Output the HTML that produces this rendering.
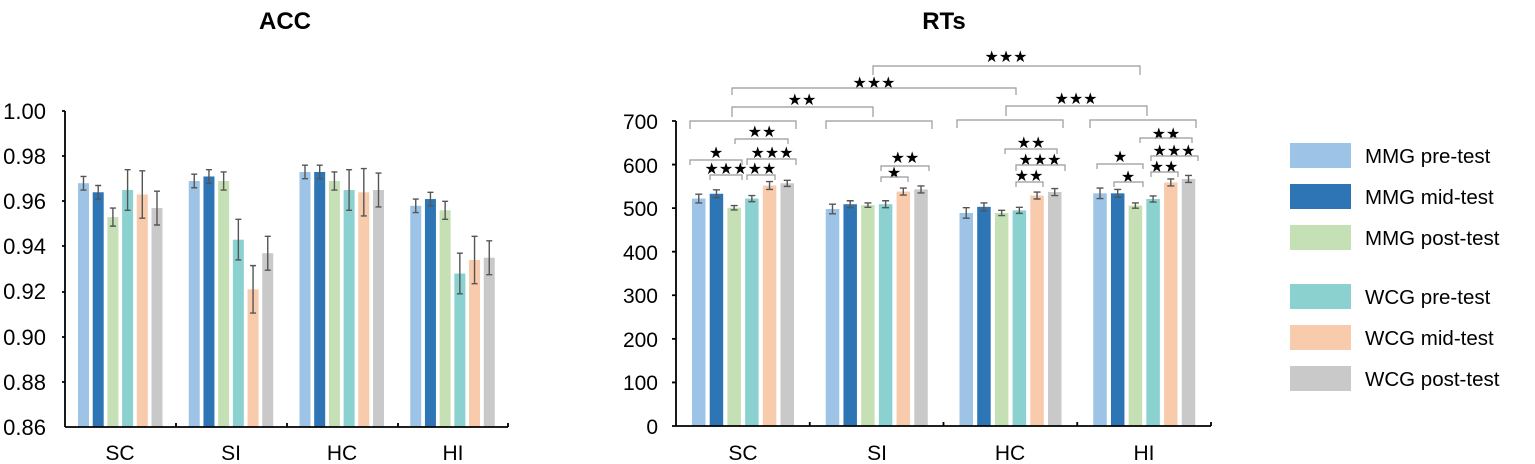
<!DOCTYPE html>
<html><head><meta charset="utf-8"><style>
html,body{margin:0;padding:0;background:#fff}
svg{display:block}
text{font-family:"Liberation Sans",sans-serif;fill:#000}
</style></head><body>
<svg id="s" width="1535" height="464" viewBox="0 0 1535 464" xmlns="http://www.w3.org/2000/svg">
<text x="285" y="29" font-size="24" font-weight="bold" text-anchor="middle">ACC</text>
<text x="944" y="29" font-size="24" font-weight="bold" text-anchor="middle">RTs</text>
<g font-size="22" text-anchor="end">
<text x="46" y="119">1.00</text><text x="46" y="164">0.98</text><text x="46" y="209">0.96</text>
<text x="46" y="254">0.94</text><text x="46" y="299">0.92</text><text x="46" y="345">0.90</text>
<text x="46" y="390">0.88</text><text x="46" y="435">0.86</text>
</g>
<g font-size="21" text-anchor="end">
<text x="658" y="129">700</text><text x="658" y="173">600</text><text x="658" y="216">500</text>
<text x="658" y="260">400</text><text x="658" y="303">300</text><text x="658" y="347">200</text>
<text x="658" y="390">100</text><text x="658" y="434">0</text>
</g>
<g font-size="21" text-anchor="middle">
<text x="120" y="460">SC</text><text x="231" y="460">SI</text><text x="342" y="460">HC</text><text x="453" y="460">HI</text>
<text x="743" y="460">SC</text><text x="877" y="460">SI</text><text x="1010" y="460">HC</text><text x="1144" y="460">HI</text>
</g>
<g font-size="20.5">
<text x="1365" y="163">MMG pre-test</text><text x="1365" y="204">MMG mid-test</text><text x="1365" y="245">MMG post-test</text>
<text x="1365" y="304">WCG pre-test</text><text x="1365" y="345">WCG mid-test</text><text x="1365" y="386">WCG post-test</text>
</g>
<g font-size="16" text-anchor="middle" fill="#222">
<text x="1006" y="62">★★★</text>
<text x="874" y="88">★★★</text>
<text x="802" y="105">★★</text>
<text x="1076" y="104">★★★</text>
<text x="762" y="137">★★</text>
<text x="716" y="158">★</text>
<text x="772" y="158">★★★</text>
<text x="726" y="174">★★★</text>
<text x="762" y="174">★★</text>
<text x="905" y="163">★★</text>
<text x="894" y="178">★</text>
<text x="1031" y="148">★★</text>
<text x="1040" y="165">★★★</text>
<text x="1029" y="181">★★</text>
<text x="1166" y="139">★★</text>
<text x="1174" y="156">★★★</text>
<text x="1120" y="162">★</text>
<text x="1164" y="172">★★</text>
<text x="1128" y="182">★</text>
</g>
<g id="g"></g>
</svg>
<script>
var g=document.getElementById('g'),NS='http://www.w3.org/2000/svg';
function el(t,a){var e=document.createElementNS(NS,t);for(var k in a)e.setAttribute(k,a[k]);g.appendChild(e);return e;}
var C=['#9DC3E6','#2E75B6','#C5E0B4','#8AD1D0','#F8CBAD','#C9C9C9'];
var acc=[[.968,.964,.953,.965,.963,.957],[.969,.971,.969,.943,.921,.937],[.973,.973,.969,.965,.964,.965],[.958,.961,.956,.928,.934,.935]];
var accE=[.003,.003,.004,.009,.0105,.0075];
function ya(v){return 427-(v-0.86)/0.02*45.14;}
for(var i=0;i<4;i++)for(var j=0;j<6;j++){
 var x=65+i*110.75+13+j*14.7,v=acc[i][j];
 el('rect',{x:x,y:ya(v),width:11,height:427-ya(v),fill:C[j]});
 var cx=x+5.5,t=ya(v+accE[j]),b=ya(v-accE[j]);
 el('path',{d:'M'+cx+' '+t+'V'+b+'M'+(cx-3)+' '+t+'H'+(cx+3)+'M'+(cx-3)+' '+b+'H'+(cx+3),stroke:'#555','stroke-width':1.4,fill:'none'});
}
el('path',{d:'M65 427H508M65 111V427M62 111H65M62 156H65M62 201H65M62 246H65M62 292H65M62 337H65M62 382H65M176 427V423M287 427V423M398 427V423M508 427V423',stroke:'#000','stroke-width':1.8,fill:'none'});
var rt=[[522,533,501,522,552,557],[498,509,507,509,538,543],[489,503,489,495,529,537],[534,534,506,521,559,567]];
var rtE=[[10,9,5,7,9,7],[11,8,5,8,8,8],[12,9,6,7,8,8],[12,9,6,7,8,8]];
function yr(v){return 426-v*0.4357;}
for(var i=0;i<4;i++)for(var j=0;j<6;j++){
 var x=676+i*133.75+16+j*17.7,v=rt[i][j];
 el('rect',{x:x,y:yr(v),width:13.5,height:426-yr(v),fill:C[j]});
 var cx=x+6.75,t=yr(v+rtE[i][j]),b=yr(v-rtE[i][j]);
 el('path',{d:'M'+cx+' '+t+'V'+b+'M'+(cx-3.5)+' '+t+'H'+(cx+3.5)+'M'+(cx-3.5)+' '+b+'H'+(cx+3.5),stroke:'#555','stroke-width':1.4,fill:'none'});
}
var p='M676 426H1211M676 121V426';
for(var k=0;k<8;k++){var yy=121+k*43.57;p+='M672 '+yy+'H676';}
for(var k=1;k<=4;k++){var xx=676+k*133.75;p+='M'+xx+' 426V422';}
el('path',{d:p,stroke:'#000','stroke-width':1.8,fill:'none'});
var br=[[873,1140,66,75],[732,1016,88,95],[732,873,107,117],[1006,1147,106,116],
[690,796,121,129],[826,932,121,129],[957,1063,120,128],[1090,1196,120,128],
[735,788,139,144],[690,742,160,165],[747,796,159,165],[710,742,175,180],[747,775,175,180],
[881,929,166,171],[881,908,177,182],
[1005,1057,149,154],[1016,1065,165,171],[1016,1043,182,187],
[1140,1192,138,143],[1151,1198,156,161],[1097,1143,164,169],[1151,1178,172,177],[1114,1143,182,187]];
br.forEach(function(b){el('path',{d:'M'+b[0]+' '+b[3]+'V'+b[2]+'H'+b[1]+'V'+b[3],stroke:'#999','stroke-width':1.2,fill:'none'});});
[143,184,225,284,325,366].forEach(function(y,i){el('rect',{x:1290,y:y,width:61,height:25,fill:C[i]});});
</script>
</body></html>
